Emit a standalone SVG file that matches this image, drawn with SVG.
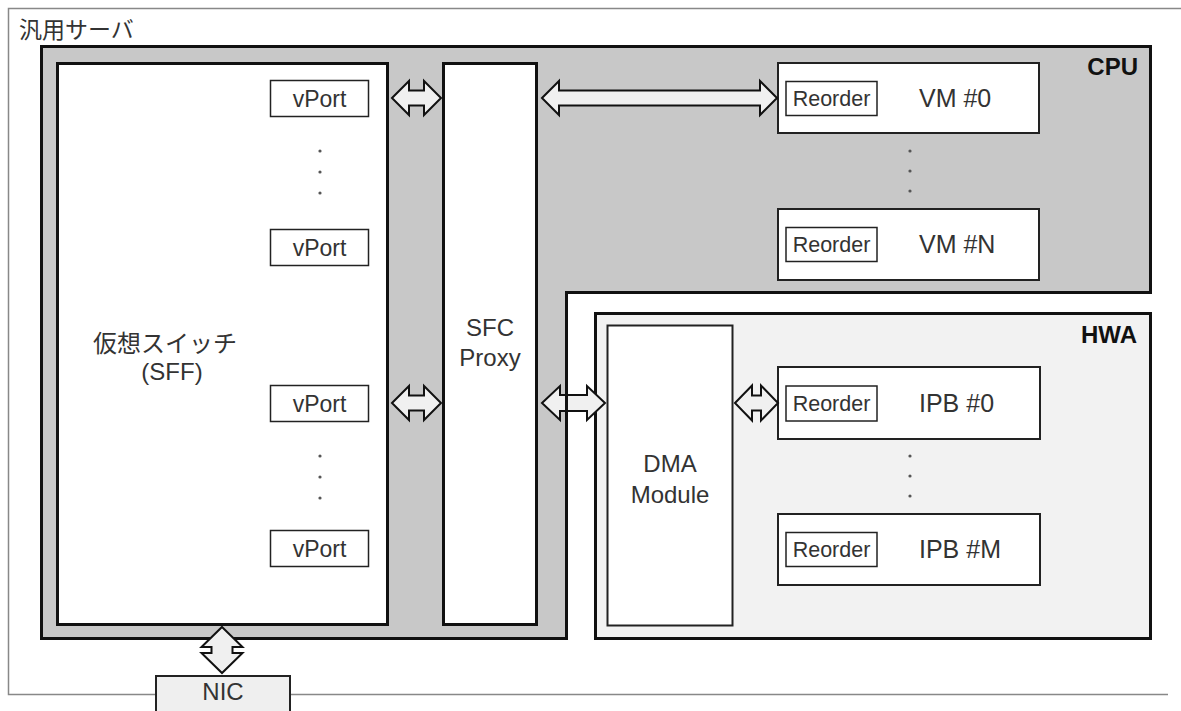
<svg xmlns="http://www.w3.org/2000/svg" width="1181" height="711" viewBox="0 0 1181 711">
<style>
.t{font-family:"Liberation Sans",Arial,sans-serif;fill:#333;}
.j{font-family:"Noto Sans CJK JP","Noto Sans CJK SC",sans-serif;fill:#333;}
.b{font-family:"Liberation Sans",Arial,sans-serif;font-weight:bold;fill:#111;font-size:24px;}
.thick{stroke:#111;stroke-width:3;}
.box{fill:#fff;stroke:#222;stroke-width:2;}
.thin{fill:#fff;stroke:#222;stroke-width:1.5;}
.arr{fill:#f0f0f0;stroke:#111;stroke-width:2;stroke-linejoin:miter;}
.dot{fill:#555;}
</style>
<rect width="1181" height="711" fill="#fff"/>
<g id="server">
<path d="M1181 8.5H8.5V694.5H1168" fill="none" stroke="#888" stroke-width="1.5"/>
<text class="j" x="19" y="38" font-size="23">汎用サーバ</text>
</g>
<g id="cpu">
<polygon class="thick" fill="#c8c8c8" points="41.5,46.5 1150.5,46.5 1150.5,292.5 566.5,292.5 566.5,638.5 41.5,638.5"/>
<text class="b" x="1138" y="75" text-anchor="end">CPU</text>
</g>
<g id="hwa">
<rect class="thick" fill="#f2f2f2" x="595.5" y="313.5" width="555" height="325"/>
<text class="b" x="1137" y="343" text-anchor="end">HWA</text>
</g>
<g id="sff">
<rect class="thick" fill="#fff" x="57.5" y="63.5" width="330" height="561"/>
<text class="j" x="165" y="352" font-size="24" text-anchor="middle">仮想スイッチ</text>
<text class="t" x="172" y="380" font-size="24" text-anchor="middle">(SFF)</text>
</g>
<g id="vport0"><rect class="thin" x="270.5" y="80.5" width="98" height="36"/><text class="t" x="319.5" y="107" font-size="23" text-anchor="middle">vPort</text></g>
<g id="vport1"><rect class="thin" x="270.5" y="229.5" width="98" height="36"/><text class="t" x="319.5" y="256" font-size="23" text-anchor="middle">vPort</text></g>
<g id="vport2"><rect class="thin" x="270.5" y="385.5" width="98" height="36"/><text class="t" x="319.5" y="412" font-size="23" text-anchor="middle">vPort</text></g>
<g id="vport3"><rect class="thin" x="270.5" y="530.5" width="98" height="36"/><text class="t" x="319.5" y="557" font-size="23" text-anchor="middle">vPort</text></g>
<g id="proxy">
<rect class="thick" fill="#fff" x="443.5" y="63.5" width="93" height="561"/>
<text class="t" x="490" y="336" font-size="24" text-anchor="middle">SFC</text>
<text class="t" x="490" y="366" font-size="24" text-anchor="middle">Proxy</text>
</g>
<g id="vm0"><rect class="box" x="778" y="63" width="261" height="70"/><rect class="thin" x="786" y="81.5" width="91" height="34"/><text class="t" x="831.5" y="106" font-size="21.5" text-anchor="middle">Reorder</text><text class="t" x="919" y="107" font-size="25">VM #0</text></g>
<g id="vmN"><rect class="box" x="778" y="209" width="261" height="71"/><rect class="thin" x="786" y="227.5" width="91" height="34"/><text class="t" x="831.5" y="252" font-size="21.5" text-anchor="middle">Reorder</text><text class="t" x="919" y="253" font-size="25">VM #N</text></g>
<g id="dma">
<rect class="box" x="607.5" y="325.5" width="125" height="300"/>
<text class="t" x="670" y="472" font-size="24" text-anchor="middle">DMA</text>
<text class="t" x="670" y="503" font-size="24" text-anchor="middle">Module</text>
</g>
<g id="ipb0"><rect class="box" x="778" y="367" width="262" height="72"/><rect class="thin" x="786" y="386" width="91" height="35"/><text class="t" x="831.5" y="411" font-size="21.5" text-anchor="middle">Reorder</text><text class="t" x="919" y="412" font-size="25">IPB #0</text></g>
<g id="ipbM"><rect class="box" x="778" y="514" width="262" height="71"/><rect class="thin" x="786" y="532.5" width="91" height="34"/><text class="t" x="831.5" y="557" font-size="21.5" text-anchor="middle">Reorder</text><text class="t" x="919" y="558" font-size="25">IPB #M</text></g>
<g id="nic"><rect fill="#efefef" stroke="#222" stroke-width="2" x="156" y="676" width="134" height="45"/><text class="t" x="223" y="700" font-size="24" text-anchor="middle">NIC</text></g>
<g id="dots">
<circle class="dot" cx="320" cy="151" r="1.6"/><circle class="dot" cx="320" cy="172" r="1.6"/><circle class="dot" cx="320" cy="193" r="1.6"/>
<circle class="dot" cx="320" cy="456" r="1.6"/><circle class="dot" cx="320" cy="477" r="1.6"/><circle class="dot" cx="320" cy="498" r="1.6"/>
<circle class="dot" cx="910" cy="151" r="1.6"/><circle class="dot" cx="910" cy="171" r="1.6"/><circle class="dot" cx="910" cy="191" r="1.6"/>
<circle class="dot" cx="910" cy="456" r="1.6"/><circle class="dot" cx="910" cy="476" r="1.6"/><circle class="dot" cx="910" cy="496" r="1.6"/>
</g>
<g id="connectors">
<polygon class="arr" points="392,98 409,81 409,90.5 424,90.5 424,81 441,98 424,115 424,105.5 409,105.5 409,115"/>
<polygon class="arr" points="392,403 409,386 409,395.5 424,395.5 424,386 441,403 424,420 424,410.5 409,410.5 409,420"/>
<polygon class="arr" points="542,98 559,81 559,90.5 760,90.5 760,81 777,98 760,115 760,105.5 559,105.5 559,115"/>
<polygon class="arr" points="542,403 560,386 560,395 587,395 587,386 605,403 587,420 587,411 560,411 560,420"/>
<path d="M566.5 395V411" stroke="#111" stroke-width="3"/>
<polygon class="arr" points="735,403 752,385.5 752,395.5 761,395.5 761,385.5 778,403 761,420.5 761,410.5 752,410.5 752,420.5"/>
<polygon class="arr" points="222,627 242.5,647 232.5,647 232.5,653 242.5,653 222,673 201.5,653 211.5,653 211.5,647 201.5,647"/>
</g>
</svg>
